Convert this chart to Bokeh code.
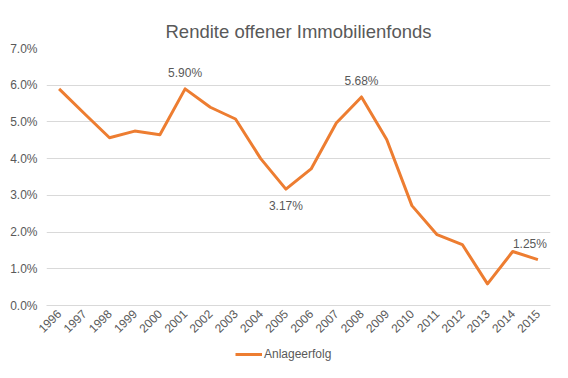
import math
from bokeh.plotting import figure
from bokeh.layouts import column
from bokeh.core.properties import value
from bokeh.models import (FactorRange, Range1d, FixedTicker, NumeralTickFormatter,
                          Legend, LegendItem, ColumnDataSource, LabelSet)
from bokeh.embed import file_html
from bokeh.resources import INLINE

years = [str(y) for y in range(1996, 2016)]
rendite = [0.0590, 0.0523, 0.0457, 0.0475, 0.0465, 0.0590, 0.0540, 0.0508, 0.0400, 0.0317,
           0.0372, 0.0497, 0.0568, 0.0452, 0.0272, 0.0193, 0.0166, 0.0059, 0.0147, 0.0125]
label_years = ["2001", "2005", "2008", "2015"]
label_values = [0.0590, 0.0317, 0.0568, 0.0125]
label_texts = ["5.90%", "3.17%", "5.68%", "1.25%"]
label_offsets = [9, -24, 9, 9]
label_xoff = [0, 0, 0, -8]
series_name = "Anlageerfolg"

FONT = "Liberation Sans"
GREY = "#595959"
ORANGE = "#ED7D31"

p = figure(frame_width=504, frame_height=257, output_backend="svg", toolbar_location=None,
           x_range=FactorRange(*years, range_padding=0), y_range=Range1d(0, 0.07),
           min_border_left=46, min_border_right=18, min_border_top=48, min_border_bottom=33,
           title="Rendite offener Immobilienfonds")
p.outline_line_color = None
p.border_fill_color = "white"
p.title.align = "center"
p.title.text_font = FONT
p.title.text_font_size = "18.5px"
p.title.text_font_style = "normal"
p.title.text_color = GREY
p.title.offset = 0
p.title.standoff = 14

r = p.line(x=years, y=rendite, line_color=ORANGE, line_width=3, line_join="round")

src = ColumnDataSource(dict(x=label_years, y=label_values, t=label_texts,
                            dy=label_offsets, dx=label_xoff))
p.add_layout(LabelSet(x="x", y="y", text="t", source=src, y_offset="dy", x_offset="dx",
                      text_align="center", text_baseline="bottom", text_font=value(FONT),
                      text_font_size=value("12px"), text_color=GREY))

p.yaxis.ticker = FixedTicker(ticks=[i / 100 for i in range(8)])
p.yaxis.formatter = NumeralTickFormatter(format="0.0%")
p.yaxis.axis_line_color = None
p.yaxis.major_tick_line_color = None
p.yaxis.minor_tick_line_color = None
p.yaxis.major_tick_out = 0
p.yaxis.major_label_text_font = FONT
p.yaxis.major_label_text_font_size = "12px"
p.yaxis.major_label_text_color = GREY
p.yaxis.major_label_standoff = 9

p.xaxis.axis_line_color = "#d9d9d9"
p.xaxis.major_tick_line_color = None
p.xaxis.minor_tick_line_color = None
p.xaxis.major_tick_out = 0
p.xaxis.major_label_orientation = math.pi / 4
p.xaxis.major_label_text_font = FONT
p.xaxis.major_label_text_font_size = "12px"
p.xaxis.major_label_text_color = GREY
p.xaxis.major_label_standoff = 6

p.xgrid.grid_line_color = None
p.ygrid.grid_line_color = "#d9d9d9"
p.ygrid.grid_line_width = 1

# legend strip below the chart (series drawn out of view; only its legend shows)
lg = figure(width=568, height=40, output_backend="svg", toolbar_location=None,
            x_axis_type=None, y_axis_type=None, min_border=0,
            x_range=FactorRange(*years, range_padding=0), y_range=Range1d(1, 2))
lg.outline_line_color = None
lg.grid.visible = False
lr = lg.line(x=years, y=rendite, line_color=ORANGE, line_width=3)
legend = Legend(items=[LegendItem(label=series_name, renderers=[lr])],
                orientation="horizontal", location=(189, 18))
legend.border_line_color = None
legend.background_fill_alpha = 0
legend.label_text_font = FONT
legend.label_text_font_size = "12px"
legend.label_text_color = GREY
legend.glyph_width = 27
legend.glyph_height = 14
legend.label_height = 14
legend.label_standoff = 2
legend.padding = 2
legend.margin = 0
lg.add_layout(legend, "center")

layout = column(p, lg, spacing=0)
open("out.html", "w").write(file_html(layout, INLINE))
